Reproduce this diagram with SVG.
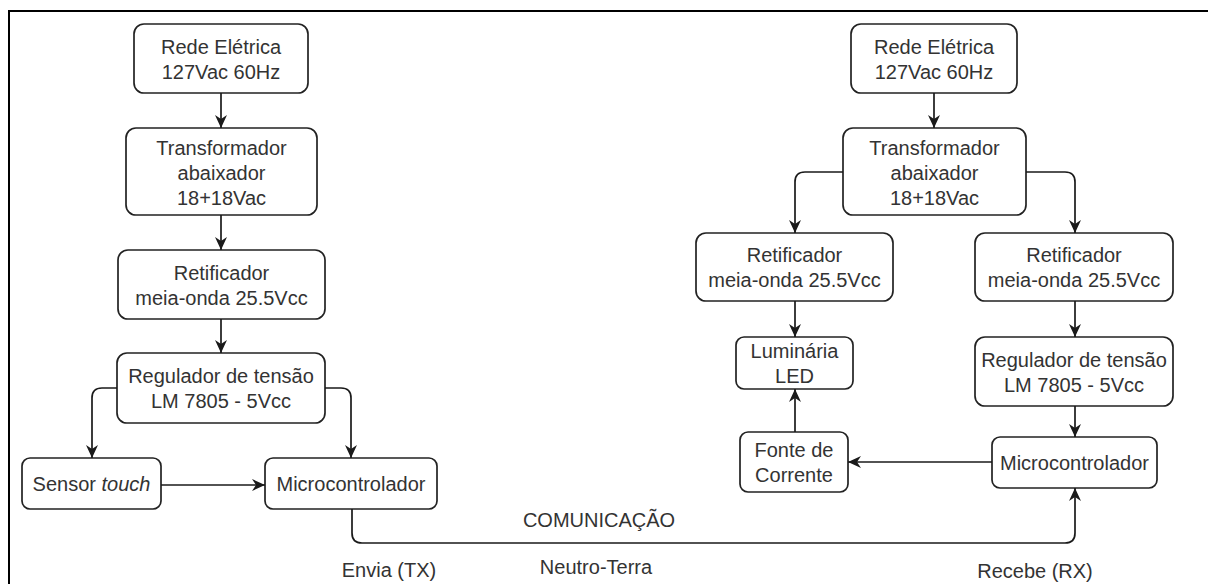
<svg xmlns="http://www.w3.org/2000/svg" width="1208" height="584" viewBox="0 0 1208 584">
  <style>
    .box { fill: #ffffff; stroke: #222222; stroke-width: 1.7; }
    .lbl { font-family: "Liberation Sans", Arial, sans-serif; font-size: 20px; fill: #333333; text-anchor: middle; }
    .edge { fill: none; stroke: #1a1a1a; stroke-width: 1.7; }
    .frame { fill: none; stroke: #000000; stroke-width: 2; }
  </style>
  <defs>
    <marker id="arrow" viewBox="0 0 13 12" refX="13" refY="6" markerWidth="13" markerHeight="12" markerUnits="userSpaceOnUse" orient="auto">
      <path d="M0,0 L13,6 L0,12 L4,6 Z" fill="#1a1a1a"/>
    </marker>
  </defs>

  <rect width="1208" height="584" fill="#ffffff"/>
  <path class="frame" d="M9,584 V11 H1208"/>

  <!-- transmitter side -->
  <g id="tx-rede">
    <rect class="box" x="134" y="24" width="174" height="69" rx="10"/>
    <text class="lbl" x="221" y="54">Rede Elétrica</text>
    <text class="lbl" x="221" y="79">127Vac 60Hz</text>
  </g>
  <g id="tx-transformador">
    <rect class="box" x="126" y="128" width="191" height="87" rx="10"/>
    <text class="lbl" x="221.5" y="154.5">Transformador</text>
    <text class="lbl" x="221.5" y="179.5">abaixador</text>
    <text class="lbl" x="221.5" y="204.5">18+18Vac</text>
  </g>
  <g id="tx-retificador">
    <rect class="box" x="118" y="250" width="207" height="69" rx="10"/>
    <text class="lbl" x="221.5" y="279.5">Retificador</text>
    <text class="lbl" x="221.5" y="304.5">meia-onda 25.5Vcc</text>
  </g>
  <g id="tx-regulador">
    <rect class="box" x="117" y="353" width="208" height="70" rx="10"/>
    <text class="lbl" x="221" y="383">Regulador de tensão</text>
    <text class="lbl" x="221" y="408">LM 7805 - 5Vcc</text>
  </g>
  <g id="tx-sensor">
    <rect class="box" x="22" y="458" width="139" height="51" rx="8"/>
    <text class="lbl" x="91.5" y="491">Sensor <tspan font-style="italic">touch</tspan></text>
  </g>
  <g id="tx-micro">
    <rect class="box" x="265" y="458" width="172" height="51" rx="8"/>
    <text class="lbl" x="351" y="491">Microcontrolador</text>
  </g>

  <!-- receiver side -->
  <g id="rx-rede">
    <rect class="box" x="851" y="24" width="166" height="69" rx="10"/>
    <text class="lbl" x="934" y="54">Rede Elétrica</text>
    <text class="lbl" x="934" y="79">127Vac 60Hz</text>
  </g>
  <g id="rx-transformador">
    <rect class="box" x="843" y="128" width="183" height="87" rx="10"/>
    <text class="lbl" x="934.5" y="154.5">Transformador</text>
    <text class="lbl" x="934.5" y="179.5">abaixador</text>
    <text class="lbl" x="934.5" y="204.5">18+18Vac</text>
  </g>
  <g id="rx-retificador-led">
    <rect class="box" x="696" y="233" width="197" height="68" rx="10"/>
    <text class="lbl" x="794.5" y="262">Retificador</text>
    <text class="lbl" x="794.5" y="287">meia-onda 25.5Vcc</text>
  </g>
  <g id="rx-retificador-ctrl">
    <rect class="box" x="975" y="233" width="198" height="68" rx="10"/>
    <text class="lbl" x="1074" y="262">Retificador</text>
    <text class="lbl" x="1074" y="287">meia-onda 25.5Vcc</text>
  </g>
  <g id="rx-luminaria">
    <rect class="box" x="736" y="337" width="117" height="52" rx="8"/>
    <text class="lbl" x="794.5" y="358">Luminária</text>
    <text class="lbl" x="794.5" y="383">LED</text>
  </g>
  <g id="rx-fonte">
    <rect class="box" x="740" y="432" width="108" height="60" rx="8"/>
    <text class="lbl" x="794" y="457">Fonte de</text>
    <text class="lbl" x="794" y="482">Corrente</text>
  </g>
  <g id="rx-regulador">
    <rect class="box" x="975" y="337" width="198" height="69" rx="10"/>
    <text class="lbl" x="1074" y="366.5">Regulador de tensão</text>
    <text class="lbl" x="1074" y="391.5">LM 7805 - 5Vcc</text>
  </g>
  <g id="rx-micro">
    <rect class="box" x="992" y="437" width="165" height="51" rx="8"/>
    <text class="lbl" x="1074.5" y="470">Microcontrolador</text>
  </g>

  <!-- link labels -->
  <g id="link-labels">
    <text class="lbl" x="599" y="527">COMUNICAÇÃO</text>
    <text class="lbl" x="596" y="574">Neutro-Terra</text>
    <text class="lbl" x="389" y="577">Envia (TX)</text>
    <text class="lbl" x="1035" y="578">Recebe (RX)</text>
  </g>

  <g id="connectors">
    <path class="edge" d="M221,93 V128" marker-end="url(#arrow)"/>
    <path class="edge" d="M221,215 V250" marker-end="url(#arrow)"/>
    <path class="edge" d="M221,319 V353" marker-end="url(#arrow)"/>
    <path class="edge" d="M117,388 H102 Q92,388 92,398 V458" marker-end="url(#arrow)"/>
    <path class="edge" d="M325,388 H341 Q351,388 351,398 V458" marker-end="url(#arrow)"/>
    <path class="edge" d="M161,485 H265" marker-end="url(#arrow)"/>
    <path class="edge" d="M352,509 V533 Q352,543 362,543 H1065 Q1075,543 1075,533 V488" marker-end="url(#arrow)"/>

    <path class="edge" d="M934,93 V128" marker-end="url(#arrow)"/>
    <path class="edge" d="M843,172 H805 Q795,172 795,182 V233" marker-end="url(#arrow)"/>
    <path class="edge" d="M1026,172 H1065 Q1075,172 1075,182 V233" marker-end="url(#arrow)"/>
    <path class="edge" d="M795,301 V337" marker-end="url(#arrow)"/>
    <path class="edge" d="M795,432 V389" marker-end="url(#arrow)"/>
    <path class="edge" d="M1075,301 V337" marker-end="url(#arrow)"/>
    <path class="edge" d="M1075,406 V437" marker-end="url(#arrow)"/>
    <path class="edge" d="M992,462 H848" marker-end="url(#arrow)"/>
  </g>
</svg>
